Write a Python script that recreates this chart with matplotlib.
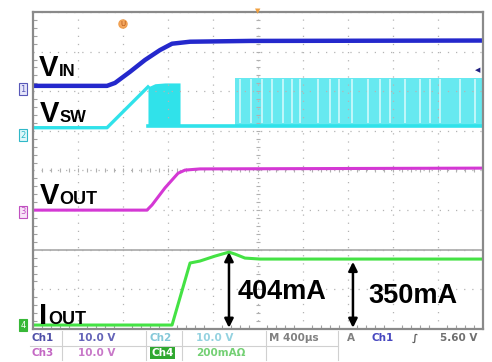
import numpy as np
import matplotlib
matplotlib.use("Agg")
import matplotlib.pyplot as plt

# scope traces (time in us, M 400us/div, trigger at centre)
t_vin = [-2000, -1342, -1271, -1138, -1004, -871, -764, -604, -71, 2000]
vin = [0.76, 0.76, 1.5, 4.3, 7.3, 9.8, 11.4, 11.9, 12.1, 12.2]          # V

t_vsw = [-2000, -1342, -978]
vsw = [1.8, 1.8, 12.1]                                                 # V
t_burst1 = [-978, -916, -827, -693]
burst1_top = [12.1, 12.9, 13.1, 13.1]
t_burst2 = [-204, 2000]
burst2_top = [14.4, 14.4]
vsw_low = 2.3
# lighter gaps between switching bursts
t_gaps = [-160, -60, 36, 120, 222, 300, 373, 533, 640, 720, 836, 978, 1080,
          1173, 1307, 1440, 1530, 1618, 1796, 1929]

t_vout = [-2000, -987, -942, -827, -711, -649, -516, 2000]
vout = [0.5, 0.5, 1.8, 6.1, 9.8, 10.6, 10.9, 11.1]                       # V

t_iout = [-2000, -764, -604, -516, -382, -258, -204, -116, 18, 2000]
iout = [0, 0, 313, 323, 348, 368, 358, 338, 333, 333]                    # mA

current_labels = ["404mA", "350mA"]

# channel settings: (volts or mA per div, ground position in divs)
ch1 = (10.0, 6.06)
ch2 = (10.0, 4.90)
ch3 = (10.0, 2.95)
ch4 = (200.0, 0.10)


def to_div(vals, ch):
    return ch[1] + np.array(vals) / ch[0]


fig = plt.figure(figsize=(4.92, 3.62), dpi=100)
fig.patch.set_facecolor("white")
ax = fig.add_axes([33 / 492, 1 - 329 / 362, 450 / 492, 317 / 362])
ax.set_xlim(-2000, 2000)
ax.set_ylim(0, 8)
ax.set_xticks(np.arange(-2000, 2001, 400))
ax.set_yticks(np.arange(0, 9, 1))
ax.set_xticks(np.arange(-2000, 2001, 80), minor=True)
ax.set_yticks(np.arange(0, 8.01, 0.2), minor=True)
ax.tick_params(which="both", direction="in", labelbottom=False, labelleft=False,
               color="#a0a0a0", length=3, width=0.8)
ax.tick_params(which="major", length=0)
ax.grid(True, color="#b4b4b4", linestyle=(0, (1, 5.5)), lw=0.9)
for s in ax.spines.values():
    s.set_color("#8a8a8a")
    s.set_linewidth(1.6)

# centre graticule ticks
xt = np.arange(-2000, 2001, 80)
ax.plot(xt, np.full(len(xt), 4.0), "|", color="#b0b0b0", ms=3, mew=0.8)
yt = np.arange(0, 8.01, 0.2)
ax.plot(np.zeros(len(yt)), yt, "_", color="#b0b0b0", ms=3, mew=0.8)
ax.axhline(2, color="#a8a8a8", lw=1.2)

# traces
ax.plot(t_vin, to_div(vin, ch1), color="#2428cc", lw=3.2, solid_capstyle="butt")
ax.plot(t_vsw, to_div(vsw, ch2), color="#30e2ea", lw=2.4)
ax.fill_between(t_burst1, to_div([vsw_low] * 4, ch2), to_div(burst1_top, ch2),
                color="#30e2ea", lw=0)
ax.plot([t_burst1[0], 2000], to_div([vsw_low, vsw_low], ch2), color="#30e2ea", lw=2.6)
ax.fill_between(t_burst2, to_div([vsw_low] * 2, ch2), to_div(burst2_top, ch2),
                color="#4ce6ee", alpha=0.85, lw=0)
ax.vlines(t_gaps, to_div(vsw_low, ch2) + 0.08, to_div(burst2_top[0], ch2) - 0.02,
          color="#c8f8fa", lw=1.3)
ax.plot(t_vout, to_div(vout, ch3), color="#d438d4", lw=2.2)
ax.plot(t_iout, to_div(iout, ch4), color="#44e244", lw=2.2)

# current arrows
i_peak = int(np.argmax(iout))
arrows = [(t_iout[i_peak], to_div(iout[i_peak], ch4)), (844, to_div(iout[-1], ch4) - 0.07)]
for xa, ya in arrows:
    ax.annotate("", xy=(xa, ya), xytext=(xa, 0.03),
                arrowprops=dict(arrowstyle="<|-|>", color="black", lw=1.8,
                                mutation_scale=13, shrinkA=0, shrinkB=0))
ax.text(-178, 0.76, current_labels[0], fontsize=19.5, fontweight="bold",
        family="Liberation Sans", va="baseline", ha="left")
ax.text(978, 0.66, current_labels[1], fontsize=19.5, fontweight="bold",
        family="Liberation Sans", va="baseline", ha="left")

# trace names
names = [("V", "IN", 39, 59, 76, 12), ("V", "SW", 40, 60, 122, 12),
         ("V", "OUT", 40, 59, 204, 13), ("I", "OUT", 39, 48, 324, 13)]
for big, small, x1, x2, yb, fs in names:
    fig.text(x1 / 492, 1 - yb / 362, big, fontsize=21, fontweight="bold",
             family="Liberation Sans", va="baseline")
    fig.text(x2 / 492, 1 - yb / 362, small, fontsize=fs, fontweight="bold",
             family="Liberation Sans", va="baseline")

# channel ground markers
markers = [("1", 89, "#5858b8", "#e6e6fa"), ("2", 135, "#30b8c8", "#dff8fa"),
           ("3", 212, "#c050c0", "#f8e4f8"), ("4", 325, "white", "#38b838")]
for lab, yp, col, bg in markers:
    fig.text(23 / 492, 1 - yp / 362, lab, fontsize=6, color=col, ha="center", va="center",
             bbox=dict(boxstyle="square,pad=0.2", fc=bg,
                       ec=col if lab != "4" else bg, lw=0.8))

# trigger markers
fig.text(123 / 492, 1 - 24 / 362, "U", fontsize=5, color="#b05010", ha="center", va="center",
         bbox=dict(boxstyle="circle,pad=0.15", fc="#f4a860", ec="#f0a050"))
fig.text(258 / 492, 1 - 11 / 362, "\u25bc", fontsize=5, color="#f0a040", ha="center", va="center")
fig.text(478 / 492, 1 - 70 / 362, "\u25c0", fontsize=5, color="#202080", ha="center", va="center")

# status bar
status = [
    ("Ch1", 32, 338, "#5050a8"), ("10.0 V", 78, 338, "#6464b8"),
    ("Ch2", 150, 338, "#84c8d8"), ("10.0 V", 196, 338, "#94d2e0"),
    ("M 400\u00b5s", 269, 338, "#808080"), ("A", 347, 338, "#808080"),
    ("Ch1", 372, 338, "#4848c0"), ("\u222b", 412, 338, "#606060"),
    ("5.60 V", 440, 338, "#707070"),
    ("Ch3", 32, 353, "#c468c4"), ("10.0 V", 78, 353, "#c878c8"),
    ("200mA\u03a9", 196, 353, "#74d074"),
]
for txt, xp, yp, col in status:
    fig.text(xp / 492, 1 - yp / 362, txt, fontsize=7.5, fontweight="bold",
             color=col, family="DejaVu Sans", va="center", ha="left")
fig.text(151 / 492, 1 - 353 / 362, "Ch4", fontsize=7.5, fontweight="bold", color="white",
         family="DejaVu Sans", va="center", ha="left",
         bbox=dict(boxstyle="square,pad=0.12", fc="#30a830", ec="none"))

lc = "#d0d0d0"
for xp in [62, 146, 182, 266, 338]:
    fig.add_artist(plt.Line2D([xp / 492] * 2, [1 - 331 / 362, 1 - 360 / 362],
                              color=lc, lw=0.8))
fig.add_artist(plt.Line2D([30 / 492, 338 / 492], [1 - 346 / 362] * 2, color=lc, lw=0.8))

fig.savefig("out.png", dpi=100)
